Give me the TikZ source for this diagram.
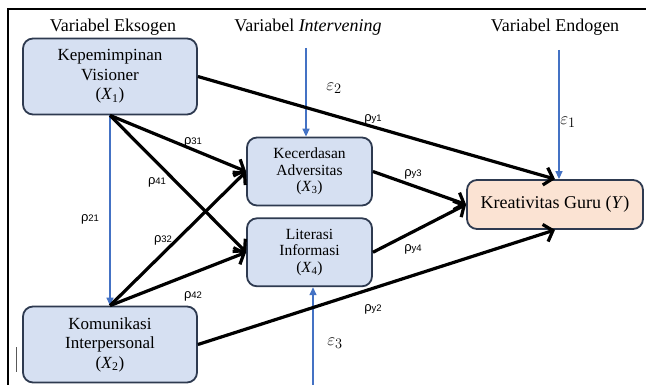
\documentclass[tikz,border=0pt]{standalone}
\usepackage{fontspec}
\setmainfont{Liberation Serif}
\newfontfamily\lblfont{Liberation Sans}
\usepackage{tikz}
\usetikzlibrary{arrows.meta,positioning,calc}
\definecolor{varFill}{HTML}{D6E0F2}
\definecolor{varEdge}{HTML}{2E3A50}
\definecolor{endoFill}{HTML}{FBE3D3}
\definecolor{errBlue}{HTML}{4472C4}
\newcommand{\rhoLbl}[1]{ρ{\fontsize{9.5}{9.5}\selectfont #1}}
\tikzset{
    varBox/.style={
        rectangle,
        draw=varEdge,
        line width=1.8pt,
        rounded corners=10pt,
        fill=varFill,
        align=center,
        inner sep=2pt
    },
    % Variable kinds
    exoVar/.style={varBox, minimum width=174pt, minimum height=76pt, font=\fontsize{17}{19.5}\selectfont},
    midVar/.style={varBox, minimum width=125pt, minimum height=68pt, font=\fontsize{15.5}{16.5}\selectfont},
    endoVar/.style={varBox, fill=endoFill, minimum width=176pt, minimum height=49pt, font=\fontsize{18}{20}\selectfont},
    groupTitle/.style={font=\fontsize{18}{20}\selectfont, inner sep=0pt},
    % Arrows
    causal/.style={-{Straight Barb[length=8pt,width=18pt]}, line width=3.2pt},
    errArrow/.style={-{Triangle[length=8pt,width=7pt]}, draw=errBlue, line width=1.4pt},
    coefLbl/.style={font=\lblfont\fontsize{13}{13}\selectfont, inner sep=0pt},
    errLbl/.style={font=\fontsize{19}{19}\selectfont, inner sep=0pt}
}

\begin{document}
\begin{tikzpicture}[x=1pt, y=-1pt]
\useasboundingbox (0,0) rectangle (646,385);
\draw[line width=1.3pt] (8,385) -- (8,9) -- (646,9);
\draw[gray!70!black, line width=0.9pt] (16,347) -- (16,372);

\node[groupTitle] (tEks) at (113,27) {Variabel Eksogen};
\node[groupTitle] (tInt) at (308,27) {Variabel \textit{Intervening}};
\node[groupTitle] (tEnd) at (555,27) {Variabel Endogen};

\node[exoVar] (x1) at (110,76.5) {Kepemimpinan\\Visioner\\(\textit{X}\textsubscript{1})};
\node[exoVar] (x2) at (110,344.5) {Komunikasi\\Interpersonal\\(\textit{X}\textsubscript{2})};
\node[midVar] (x3) at (309.5,171.5) {Kecerdasan\\Adversitas\\(\textit{X}\textsubscript{3})};
\node[midVar, below=11pt of x3] (x4) {Literasi\\Informasi\\(\textit{X}\textsubscript{4})};
\node[endoVar] (y) at (555,204.5) {Kreativitas Guru (\textit{Y})};

% error terms
\coordinate (e1) at (559,50);
\coordinate (e2) at (306,48);
\coordinate (e3) at (313,385);
\draw[errArrow] (e1) -- (e1 |- y.north);
\draw[errArrow] (e2) -- (e2 |- x3.north);
\draw[errArrow] (e3) -- (e3 |- x4.south);
\draw[errArrow] (x1.south) -- (x2.north);

\draw[causal] (x1.south) -- (x3.west);
\draw[causal] (x1.south) -- (x4.west);
\draw[causal] (x2.north) -- (x3.west);
\draw[causal] (x2.north) -- (x4.west);
\draw[causal] (x1.east) -- (y.north);
\draw[causal] (x3.east) -- (y.west);
\draw[causal] (x4.east) -- (y.west);
\draw[causal] (x2.east) -- (y.south);

\node[coefLbl] (p31) at (193,142) {\rhoLbl{31}};
\node[coefLbl] (p41) at (157,182) {\rhoLbl{41}};
\node[coefLbl] (p21) at (90,219) {\rhoLbl{21}};
\node[coefLbl] (p32) at (163,240) {\rhoLbl{32}};
\node[coefLbl] (p42) at (193,296) {\rhoLbl{42}};
\node[coefLbl] (py1) at (373,119) {\rhoLbl{y1}};
\node[coefLbl] (py3) at (413,174) {\rhoLbl{y3}};
\node[coefLbl] (py4) at (413,249) {\rhoLbl{y4}};
\node[coefLbl] (py2) at (373,309) {\rhoLbl{y2}};

\node[errLbl] (eps1) at (568,122) {$\varepsilon_{1}$};
\node[errLbl] (eps2) at (334,88) {$\varepsilon_{2}$};
\node[errLbl] (eps3) at (335,343) {$\varepsilon_{3}$};
\end{tikzpicture}
\end{document}
